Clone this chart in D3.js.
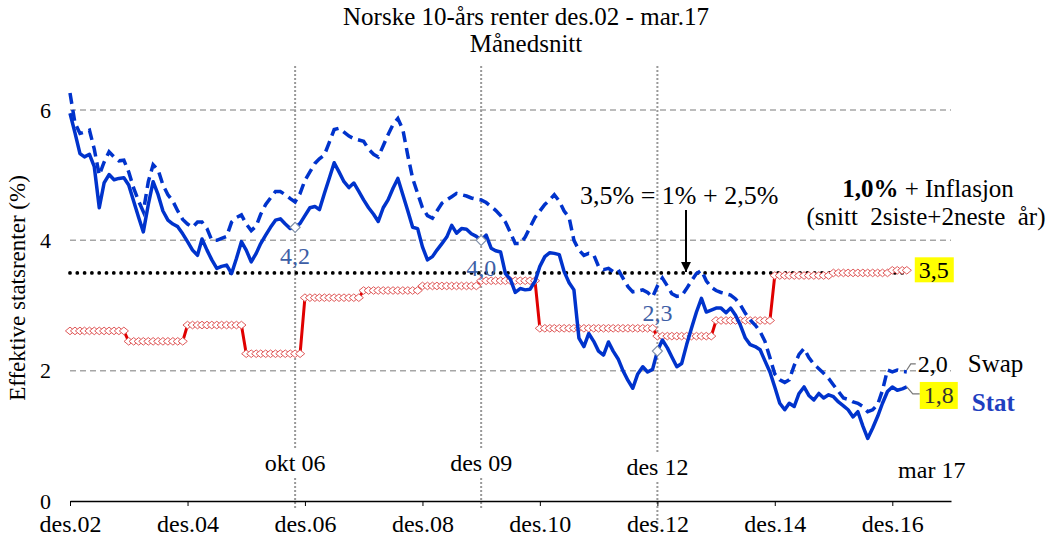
<!DOCTYPE html>
<html>
<head>
<meta charset="utf-8">
<script src="https://cdnjs.cloudflare.com/ajax/libs/d3/7.8.5/d3.min.js"></script>
<style>
  body { margin: 0; background: #fff; }
  text { font-family: "Liberation Serif", "Times New Roman", serif; }
</style>
</head>
<body>
<div id="chart"></div>
<script>
var svgWidth = 1054;
var svgHeight = 541;

// monthly averages, des.02 .. mar.17 (one row = des..nov)
var statRente = [
  5.95,5.65,5.33,5.28,5.32,5.13,4.50,4.88,5.01,4.93,4.95,4.96,
  4.85,4.60,4.35,4.13,4.55,4.90,4.70,4.45,4.31,4.25,4.21,4.10,
  3.98,3.85,3.77,4.02,3.85,3.70,3.57,3.60,3.62,3.49,3.72,3.98,
  3.85,3.67,3.80,3.95,4.08,4.20,4.31,4.33,4.25,4.18,4.20,4.26,
  4.38,4.50,4.52,4.47,4.72,4.95,5.19,5.05,4.90,4.81,4.88,4.75,
  4.62,4.50,4.40,4.29,4.50,4.62,4.80,4.95,4.70,4.45,4.20,4.18,
  3.90,3.70,3.75,3.85,3.95,4.05,4.23,4.11,4.18,4.17,4.10,4.06,
  4.00,4.08,3.88,3.84,3.82,3.49,3.40,3.20,3.26,3.24,3.25,3.37,
  3.60,3.75,3.81,3.80,3.78,3.52,3.35,3.24,2.50,2.37,2.57,2.45,
  2.30,2.24,2.44,2.30,2.18,2.00,1.85,1.73,1.95,2.06,1.98,2.02,
  2.30,2.47,2.35,2.21,2.06,2.11,2.40,2.65,2.90,3.11,2.90,2.93,
  2.96,2.96,2.89,2.96,2.85,2.70,2.50,2.40,2.37,2.32,2.15,1.98,
  1.75,1.50,1.40,1.50,1.45,1.65,1.75,1.62,1.55,1.65,1.58,1.63,
  1.60,1.52,1.46,1.40,1.29,1.37,1.15,0.96,1.12,1.30,1.50,1.68,
  1.75,1.70,1.72,1.75
];

var swapRente = [
  6.26,5.80,5.64,5.66,5.69,5.40,5.00,5.20,5.36,5.28,5.22,5.23,
  5.05,4.80,4.60,4.44,4.90,5.16,5.08,4.85,4.70,4.60,4.45,4.32,
  4.25,4.20,4.28,4.28,4.18,4.00,4.00,4.03,4.06,4.28,4.35,4.39,
  4.25,4.15,4.22,4.40,4.55,4.65,4.75,4.75,4.70,4.64,4.59,4.72,
  4.92,5.05,5.18,5.25,5.31,5.50,5.70,5.72,5.66,5.60,5.56,5.54,
  5.52,5.40,5.32,5.28,5.45,5.62,5.78,5.87,5.70,5.30,4.95,4.72,
  4.50,4.38,4.34,4.45,4.57,4.62,4.67,4.72,4.70,4.68,4.65,4.63,
  4.62,4.58,4.52,4.46,4.38,4.28,4.12,3.95,3.95,4.05,4.20,4.35,
  4.45,4.55,4.62,4.70,4.60,4.45,4.35,4.00,3.85,3.77,3.80,3.78,
  3.60,3.55,3.57,3.52,3.55,3.42,3.29,3.21,3.22,3.24,3.20,3.13,
  3.30,3.42,3.30,3.18,3.14,3.15,3.26,3.38,3.49,3.54,3.38,3.28,
  3.23,3.20,3.18,3.16,3.10,3.01,2.88,2.78,2.70,2.60,2.45,2.20,
  1.95,1.86,1.82,1.86,2.08,2.25,2.34,2.20,2.10,2.03,1.96,1.88,
  1.78,1.68,1.58,1.56,1.52,1.50,1.45,1.37,1.40,1.48,1.70,2.01,
  1.98,2.01,1.99,1.98
];

// 1% + inflasjon, fixed from each desember
var inflYears = [2002,2003,2004,2005,2006,2007,2008,2009,2010,2011,2012,2013,2014,2015,2016];
var inflRente = [2.61,2.45,2.70,2.26,3.12,3.23,3.30,3.38,2.65,2.65,2.53,2.77,3.46,3.50,3.54];

var tickYears = [2002,2004,2006,2008,2010,2012,2014,2016];
var yTicks = [0,2,4,6];
var gridVals = [2,4,6];
var targetRate = 3.5;

var eventLabels = ["okt 06","des 09","des 12"];
var eventDates = [new Date(2006,9,1), new Date(2009,11,1), new Date(2012,11,1)];

var startDate = new Date(2002,11,1);
var months = d3.timeMonth.range(startDate, new Date(2017,3,1));
var fmt = d => d3.format(".1f")(d).replace(".", ",");

var svg = d3.select("#chart")
  .append("svg")
  .attr("width", svgWidth)
  .attr("height", svgHeight);

var x = d3.scaleTime()
  .domain([startDate, new Date(2017,11,1)])
  .range([70, 951]);

var y = d3.scaleLinear()
  .domain([0, 6])
  .range([501, 110]);

// title
svg.append("text")
  .attr("x", 526).attr("y", 25)
  .attr("text-anchor", "middle")
  .style("font-size", "25px")
  .text("Norske 10-års renter des.02 - mar.17");
svg.append("text")
  .attr("x", 526).attr("y", 52)
  .attr("text-anchor", "middle")
  .style("font-size", "25px")
  .text("Månedsnitt");

// grid
svg.append("g").selectAll("line")
  .data(gridVals)
  .join("line")
  .attr("x1", 70).attr("x2", 951)
  .attr("y1", d => y(d)).attr("y2", d => y(d))
  .attr("stroke", "#a6a6a6")
  .attr("stroke-width", 1.5)
  .attr("stroke-dasharray", "6,4");

// vertical event lines
svg.append("g").selectAll("line")
  .data(eventDates)
  .join("line")
  .attr("x1", d => x(d)).attr("x2", d => x(d))
  .attr("y1", 66)
  .attr("y2", (d, i) => i == 2 ? 528 : 508)
  .attr("stroke", "#999")
  .attr("stroke-width", 2)
  .attr("stroke-dasharray", "2,2");

// axes
var bottomAxis = d3.axisBottom(x)
  .tickValues(tickYears.map(yr => new Date(yr,11,1)))
  .tickFormat(d => "des." + d3.timeFormat("%y")(d))
  .tickSize(5)
  .tickSizeOuter(0)
  .tickPadding(9);

var xAxis = svg.append("g")
  .attr("transform", "translate(0, 501)")
  .call(bottomAxis);
xAxis.select(".domain").attr("stroke", "#000").attr("stroke-width", 1.5);
xAxis.selectAll("line").attr("stroke", "#000").attr("stroke-width", 1);
xAxis.selectAll("text").style("font-size", "24px").style("font-family", "Liberation Serif").attr("fill", "#000");

var leftAxis = d3.axisLeft(y).tickValues(yTicks).tickFormat(d3.format("d")).tickSize(0).tickPadding(19);
var yAxis = svg.append("g")
  .attr("transform", "translate(70, 0)")
  .call(leftAxis);
yAxis.select(".domain").remove();
yAxis.selectAll("text").style("font-size", "22px").style("font-family", "Liberation Serif").attr("fill", "#000");

svg.append("text")
  .attr("transform", "translate(25, 288) rotate(-90)")
  .attr("text-anchor", "middle")
  .style("font-size", "23px")
  .text("Effektive statsrenter (%)");

// target rate 3,5
svg.append("line")
  .attr("x1", x(startDate)).attr("x2", x(months[months.length - 1]))
  .attr("y1", y(targetRate)).attr("y2", y(targetRate))
  .attr("stroke", "#000")
  .attr("stroke-width", 3.8)
  .attr("stroke-linecap", "round")
  .attr("stroke-dasharray", "0,7.3");

// 1% + inflation, monthly steps
var inflData = months.map(m => {
  var yr = m.getMonth() == 11 ? m.getFullYear() : m.getFullYear() - 1;
  return { date: m, v: inflRente[inflYears.indexOf(yr)] };
});

var line = d3.line().x(d => x(d.date)).y(d => y(d.v));

svg.append("path")
  .datum(inflData)
  .attr("d", line)
  .attr("fill", "none")
  .attr("stroke", "#e00000")
  .attr("stroke-width", 3);

svg.append("g").selectAll("path")
  .data(inflData)
  .join("path")
  .attr("transform", d => `translate(${x(d.date)}, ${y(d.v)})`)
  .attr("d", "M0,-3.8L4.6,0L0,3.8L-4.6,0Z")
  .attr("fill", "#fff")
  .attr("stroke", "#e05a5a")
  .attr("stroke-width", 1);

// swap and stat
var swapData = months.map((m, i) => ({ date: m, v: swapRente[i] }));
var statData = months.map((m, i) => ({ date: m, v: statRente[i] }));

svg.append("path")
  .datum(swapData)
  .attr("d", line)
  .attr("fill", "none")
  .attr("stroke", "#0033cc")
  .attr("stroke-width", 3.5)
  .attr("stroke-dasharray", "11,6");

svg.append("path")
  .datum(statData)
  .attr("d", line)
  .attr("fill", "none")
  .attr("stroke", "#0033cc")
  .attr("stroke-width", 3.5)
  .attr("stroke-linejoin", "round");

// stat values at the event dates
var labelDy = [37, 36, -30];
var evPts = eventDates.map((d, i) => ({ date: d, v: statRente[d3.timeMonth.count(startDate, d)], dy: labelDy[i] }));

svg.append("g").selectAll("path")
  .data(evPts)
  .join("path")
  .attr("transform", d => `translate(${x(d.date)}, ${y(d.v)})`)
  .attr("d", "M0,-5L5,0L0,5L-5,0Z")
  .attr("fill", "#fff")
  .attr("stroke", "#8090a8")
  .attr("stroke-width", 1.2);

svg.append("g").selectAll("text")
  .data(evPts)
  .join("text")
  .attr("x", d => x(d.date))
  .attr("y", d => y(d.v) + d.dy)
  .attr("text-anchor", "middle")
  .attr("fill", "#3d5ea6")
  .style("font-size", "24px")
  .text(d => fmt(d.v));

// event labels with white background
var evLab = svg.append("g").selectAll("g")
  .data(eventDates)
  .join("g")
  .attr("transform", (d, i) => `translate(${x(d)}, ${i == 2 ? 475 : 471})`);
evLab.append("text")
  .attr("text-anchor", "middle")
  .style("font-size", "24px")
  .text((d, i) => eventLabels[i]);
evLab.each(function() {
  var g = d3.select(this);
  var bb = g.select("text").node().getBBox();
  g.insert("rect", "text")
    .attr("x", bb.x - 2).attr("y", bb.y)
    .attr("width", bb.width + 4).attr("height", bb.height)
    .attr("fill", "#fff");
});

var lastDate = months[months.length - 1];
svg.append("text")
  .attr("x", x(lastDate) + 25).attr("y", 478)
  .attr("text-anchor", "middle")
  .style("font-size", "24px")
  .text("mar 17");

// end labels
var lastInfl = inflData[inflData.length - 1].v;
var lastSwap = swapRente[swapRente.length - 1];
var lastStat = statRente[statRente.length - 1];
var ex = x(lastDate);

svg.append("rect")
  .attr("x", ex + 8).attr("y", y(lastInfl) - 13)
  .attr("width", 39).attr("height", 25)
  .attr("fill", "#ffff00");
svg.append("text")
  .attr("x", ex + 27).attr("y", y(lastInfl) + 8)
  .attr("text-anchor", "middle")
  .style("font-size", "24px")
  .text(fmt(lastInfl));

svg.append("path")
  .attr("d", `M${ex},${y(lastSwap) - 2}L${ex + 4},${y(lastSwap) - 8}L${ex + 9},${y(lastSwap) - 8}`)
  .attr("fill", "none").attr("stroke", "#777").attr("stroke-width", 1.2);
svg.append("text")
  .attr("x", ex + 11).attr("y", y(lastSwap))
  .style("font-size", "24px")
  .text(fmt(lastSwap));
svg.append("text")
  .attr("x", ex + 61).attr("y", y(lastSwap))
  .style("font-size", "25px")
  .text("Swap");

svg.append("path")
  .attr("d", `M${ex},${y(lastStat)}L${ex + 6},${y(lastStat) + 7}L${ex + 13},${y(lastStat) + 7}`)
  .attr("fill", "none").attr("stroke", "#777").attr("stroke-width", 1.2);
svg.append("rect")
  .attr("x", ex + 13).attr("y", y(lastStat) - 5)
  .attr("width", 38).attr("height", 27)
  .attr("fill", "#ffff00");
svg.append("text")
  .attr("x", ex + 32).attr("y", y(lastStat) + 16)
  .attr("text-anchor", "middle")
  .attr("fill", "#333")
  .style("font-size", "24px")
  .text(fmt(lastStat));
svg.append("text")
  .attr("x", ex + 65).attr("y", y(lastStat) + 24)
  .attr("fill", "#1f3fbf")
  .style("font-size", "25px")
  .style("font-weight", "bold")
  .text("Stat");

// annotations
svg.append("text")
  .attr("x", 580).attr("y", 204)
  .style("font-size", "26px")
  .text("3,5% = 1% + 2,5%");

svg.append("defs").append("marker")
  .attr("id", "arrow")
  .attr("viewBox", "0 0 10 10")
  .attr("refX", 10).attr("refY", 5)
  .attr("markerWidth", 5).attr("markerHeight", 5)
  .attr("orient", "auto")
  .append("path")
  .attr("d", "M0,0L10,5L0,10Z")
  .attr("fill", "#000");

svg.append("line")
  .attr("x1", 686).attr("x2", 686)
  .attr("y1", 210).attr("y2", y(targetRate) - 1)
  .attr("stroke", "#000")
  .attr("stroke-width", 2)
  .attr("marker-end", "url(#arrow)");

var infTxt = svg.append("text")
  .attr("x", 928).attr("y", 197)
  .attr("text-anchor", "middle")
  .style("font-size", "25px");
infTxt.append("tspan").style("font-weight", "bold").text("1,0%");
infTxt.append("tspan").text(" + Inflasjon");

svg.append("text")
  .attr("x", 926).attr("y", 225)
  .attr("text-anchor", "middle")
  .style("font-size", "25px")
  .style("white-space", "pre")
  .attr("xml:space", "preserve")
  .text("(snitt  2siste+2neste  år)");
</script>
</body>
</html>
